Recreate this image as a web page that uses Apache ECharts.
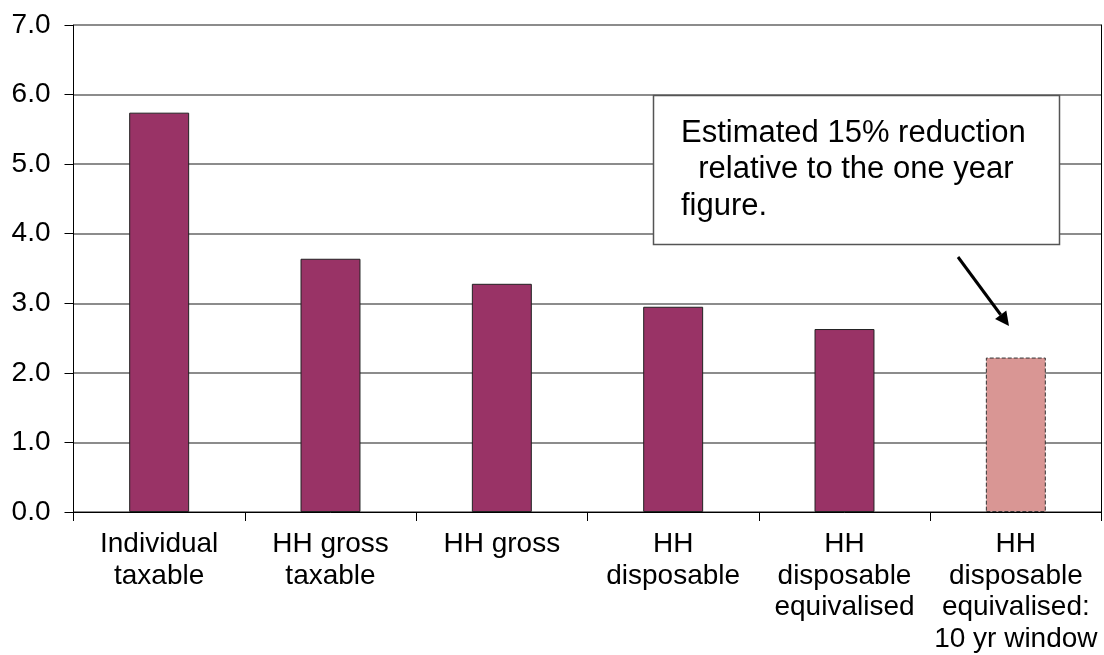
<!DOCTYPE html>
<html>
<head>
<meta charset="utf-8">
<script src="https://cdn.jsdelivr.net/npm/echarts@6/dist/echarts.min.js"></script>
<style>
html,body{margin:0;padding:0;background:#fff;}
#chart{width:1104px;height:655px;}
</style>
</head>
<body>
<div id="chart"></div>
<script>
var categories = ["Individual\ntaxable", "HH gross\ntaxable", "HH gross", "HH\ndisposable", "HH\ndisposable\nequivalised", "HH\ndisposable\nequivalised:\n10 yr window"];
var values = [5.74, 3.64, 3.28, 2.95, 2.63, 2.22];
var estimatedIndex = 5;
var yTicks = {min: 0, max: 7, interval: 1};
var noteText = "Estimated 15% reduction\n  relative to the one year\nfigure.";

var FONT = "Liberation Sans, Arial, sans-serif";
var chart = echarts.init(document.getElementById('chart'), null, {renderer: 'canvas'});

var barData = values.map(function (v, i) {
  if (i === estimatedIndex) {
    return {value: v, itemStyle: {color: '#D99694', borderColor: '#333', borderWidth: 1, borderType: 'dashed'}};
  }
  return {value: v};
});

// arrow geometry
var ax1 = 958, ay1 = 257, ax2 = 1009, ay2 = 326;
var dx = ax2 - ax1, dy = ay2 - ay1, L = Math.sqrt(dx*dx + dy*dy);
var ux = dx / L, uy = dy / L, hl = 14, hw = 7;
var bx = ax2 - ux*hl, by = ay2 - uy*hl;

chart.setOption({
  animation: false,
  backgroundColor: '#fff',
  grid: {left: 73.5, right: 2.5, top: 25, bottom: 141, containLabel: false},
  xAxis: {
    type: 'category',
    data: categories,
    boundaryGap: true,
    axisLine: {show: true, lineStyle: {color: '#000', width: 1}},
    axisTick: {show: true, length: 9, lineStyle: {color: '#000', width: 1}},
    axisLabel: {color: '#000', fontFamily: FONT, fontSize: 28, lineHeight: 31.5, margin: 17, interval: 0}
  },
  yAxis: [{
    type: 'value',
    min: yTicks.min, max: yTicks.max, interval: yTicks.interval,
    axisLine: {show: true, lineStyle: {color: '#000', width: 1}},
    axisTick: {show: true, length: 9, lineStyle: {color: '#000'}},
    axisLabel: {color: '#000', fontFamily: FONT, fontSize: 28, margin: 23,
      formatter: function (v) { return v.toFixed(1); }},
    splitLine: {show: true, lineStyle: {color: '#666', width: 1.5}}
  }, {
    type: 'value', position: 'right',
    min: yTicks.min, max: yTicks.max, interval: yTicks.interval,
    axisLine: {show: true, lineStyle: {color: '#000', width: 1}},
    axisTick: {show: false}, axisLabel: {show: false}, splitLine: {show: false}
  }],
  series: [{
    type: 'bar',
    data: barData,
    barWidth: '35%',
    itemStyle: {color: '#993366', borderColor: '#222', borderWidth: 1}
  }],
  graphic: [
    {type: 'rect', z: 100, shape: {x: 653.5, y: 95.5, width: 406, height: 149},
      style: {fill: '#fff', stroke: '#555', lineWidth: 1.5}},
    {type: 'text', z: 101, x: 681, y: 115,
      style: {text: noteText, font: '31px ' + FONT, fill: '#000', lineHeight: 36.5}},
    {type: 'line', z: 101, shape: {x1: ax1, y1: ay1, x2: bx, y2: by},
      style: {stroke: '#000', lineWidth: 3}},
    {type: 'polygon', z: 101, shape: {points: [[ax2, ay2], [bx - uy*hw, by + ux*hw], [bx + uy*hw, by - ux*hw]]},
      style: {fill: '#000'}}
  ]
});
</script>
</body>
</html>
